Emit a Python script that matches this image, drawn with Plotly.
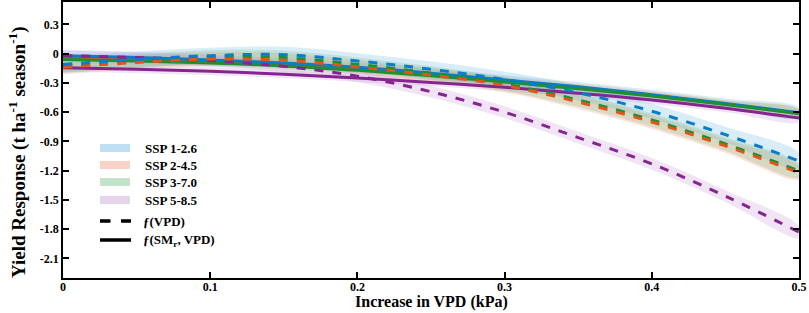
import plotly.graph_objects as go

# ---------------- data ----------------
vpd = [0, 0.05, 0.1, 0.15, 0.2, 0.25, 0.3, 0.35, 0.4, 0.45, 0.5]

# f(VPD) (dashed)
ssp126_vpd = [-0.11, -0.06, -0.02, -0.01, -0.075, -0.16, -0.265, -0.40, -0.59, -0.83, -1.10]
ssp245_vpd = [-0.14, -0.09, -0.055, -0.068, -0.135, -0.22, -0.325, -0.495, -0.70, -0.945, -1.22]
ssp370_vpd = [-0.13, -0.075, -0.035, -0.04, -0.11, -0.20, -0.31, -0.475, -0.68, -0.925, -1.20]
ssp585_vpd = [-0.02, -0.04, -0.07, -0.13, -0.23, -0.39, -0.60, -0.86, -1.13, -1.46, -1.83]

# f(SMr, VPD) (solid)
ssp126_sm = [-0.02, -0.04, -0.065, -0.095, -0.14, -0.20, -0.27, -0.34, -0.42, -0.51, -0.605]
ssp245_sm = [-0.04, -0.055, -0.08, -0.11, -0.155, -0.21, -0.275, -0.345, -0.425, -0.515, -0.61]
ssp370_sm = [-0.06, -0.075, -0.095, -0.125, -0.17, -0.225, -0.29, -0.36, -0.435, -0.52, -0.615]
ssp585_sm = [-0.145, -0.16, -0.18, -0.21, -0.25, -0.295, -0.345, -0.405, -0.475, -0.56, -0.66]

# uncertainty half-widths (t/ha/season)
band_vpd = [0.08, 0.07, 0.07, 0.06]
band_sm = [0.05, 0.04, 0.04, 0.04]

scenarios = ["SSP 1-2.6", "SSP 2-4.5", "SSP 3-7.0", "SSP 5-8.5"]
model_labels = ["ƒ(VPD)", "ƒ(SM<sub>r</sub>, VPD)"]
x_title = "Increase in VPD (kPa)"
y_title = "Yield Response (t ha<sup>-1</sup> season<sup>-1</sup>)"
x_ticks = [0, 0.1, 0.2, 0.3, 0.4, 0.5]
x_ticktext = ["0", "0.1", "0.2", "0.3", "0.4", "0.5"]
y_ticks = [0.3, 0, -0.3, -0.6, -0.9, -1.2, -1.5, -1.8, -2.1]
y_ticktext = ["0.3", "0", "-0.3", "-0.6", "-0.9", "-1.2", "-1.5", "-1.8", "-2.1"]

# ---------------- styles ----------------
W, H = 809, 313
ML, MR, MT, MB = 63, 10, 2, 35
line_colors = ["#0A7CC8", "#E4531A", "#1E8F32", "#86258F"]
band_colors = ["rgba(120,190,230,0.28)", "rgba(245,150,120,0.28)",
               "rgba(120,195,140,0.28)", "rgba(205,160,220,0.28)"]
legend_colors = ["#BFE0F3", "#F9D3C6", "#C4E3CB", "#E6D3EC"]
FONT = "Liberation Serif"

vpd_series = [ssp126_vpd, ssp245_vpd, ssp370_vpd, ssp585_vpd]
sm_series = [ssp126_sm, ssp245_sm, ssp370_sm, ssp585_sm]

PW, PH = W - ML - MR, H - MT - MB


def px(xp):
    return (xp - ML) / PW


def py(yp):
    return (H - MB - yp) / PH


fig = go.Figure()


def band(yvals, hw, color):
    upper = [v + hw for v in yvals]
    lower = [v - hw for v in yvals]
    return go.Scatter(x=vpd + vpd[::-1], y=upper + lower[::-1], fill="toself",
                      fillcolor=color, line=dict(width=0, shape="spline"),
                      mode="lines", hoverinfo="skip", showlegend=False)


for i in range(4):
    fig.add_trace(band(sm_series[i], band_sm[i], band_colors[i]))
for i in range(4):
    fig.add_trace(band(vpd_series[i], band_vpd[i], band_colors[i]))

for i in [3, 1, 0, 2]:
    fig.add_trace(go.Scatter(x=vpd, y=sm_series[i], mode="lines", name=scenarios[i],
                             line=dict(color=line_colors[i], width=3, shape="spline"),
                             showlegend=False))
for i in [3, 2, 1, 0]:
    fig.add_trace(go.Scatter(x=vpd, y=vpd_series[i], mode="lines", name=scenarios[i],
                             line=dict(color=line_colors[i], width=3, dash="dash", shape="spline"),
                             showlegend=False))

# ---------------- manual legend ----------------
shapes = []
annotations = []
font_leg = dict(family=FONT, size=13, color="black", weight="bold")
ssp_rows = [148, 165, 182, 200]
for i, yc in enumerate(ssp_rows):
    shapes.append(dict(type="rect", xref="paper", yref="paper",
                       x0=px(100), x1=px(130), y0=py(yc + 4), y1=py(yc - 4),
                       fillcolor=legend_colors[i], line=dict(width=0), layer="above"))
    annotations.append(dict(text=scenarios[i], xref="paper", yref="paper",
                            x=px(143), y=py(yc), xanchor="left", yanchor="middle",
                            showarrow=False, font=font_leg))
line_rows = [221, 240]
line_dash = ["dash", "solid"]
for j, yc in enumerate(line_rows):
    shapes.append(dict(type="line", xref="paper", yref="paper",
                       x0=px(100), x1=px(131), y0=py(yc), y1=py(yc),
                       line=dict(color="black", width=3.5, dash=line_dash[j]), layer="above"))
    annotations.append(dict(text=model_labels[j], xref="paper", yref="paper",
                            x=px(141), y=py(yc), xanchor="left", yanchor="middle",
                            showarrow=False, font=font_leg))

# axis titles
annotations.append(dict(text=y_title, xref="paper", yref="paper", x=px(17), y=py(152),
                        xanchor="center", yanchor="middle", textangle=-90, showarrow=False,
                        font=dict(family=FONT, size=19, color="black", weight="bold")))
annotations.append(dict(text=x_title, xref="paper", yref="paper", x=px(431), y=py(302),
                        xanchor="center", yanchor="middle", showarrow=False,
                        font=dict(family=FONT, size=16, color="black", weight="bold")))

axis_common = dict(showline=True, linecolor="black", linewidth=1.5, mirror="ticks",
                   ticks="inside", ticklen=6, tickwidth=1.5, tickcolor="black",
                   showgrid=False, zeroline=False,
                   tickfont=dict(family=FONT, size=12, color="black", weight="bold"))

fig.update_layout(
    width=W, height=H,
    margin=dict(l=ML, r=MR, t=MT, b=MB, autoexpand=False),
    paper_bgcolor="white", plot_bgcolor="white",
    xaxis=dict(range=[0, 0.5], tickvals=x_ticks, ticktext=x_ticktext,
               ticklabelstandoff=-3, **axis_common),
    yaxis=dict(range=[-2.3, 0.53], tickvals=y_ticks, ticktext=y_ticktext,
               **axis_common),
    shapes=shapes,
    annotations=annotations,
    showlegend=False,
)

fig.write_html("out.html", config={"displayModeBar": False},
               post_script="document.body.style.margin='0';document.body.style.overflow='hidden';")
